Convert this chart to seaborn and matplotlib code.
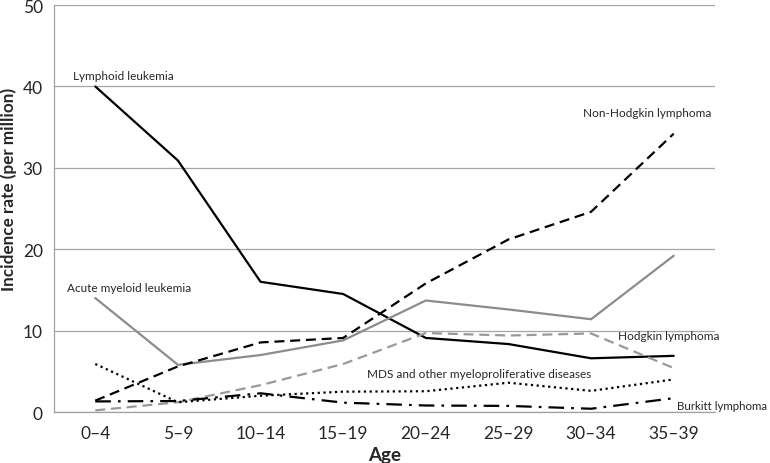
import matplotlib
matplotlib.use("Agg")
import matplotlib.pyplot as plt
import seaborn as sns
import numpy as np
import pandas as pd

ages = ["0–4", "5–9", "10–14", "15–19", "20–24", "25–29", "30–34", "35–39"]
lymphoid_leukemia = [40.0, 30.9, 16.0, 14.5, 9.1, 8.35, 6.6, 6.9]
acute_myeloid_leukemia = [14.0, 5.8, 7.0, 8.8, 13.7, 12.6, 11.4, 19.2]
non_hodgkin_lymphoma = [1.4, 5.6, 8.55, 9.1, 15.8, 21.2, 24.6, 34.2]
hodgkin_lymphoma = [0.2, 1.2, 3.3, 5.9, 9.7, 9.4, 9.65, 5.4]
mds_other = [5.9, 1.2, 2.0, 2.5, 2.55, 3.6, 2.6, 4.0]
burkitt_lymphoma = [1.3, 1.35, 2.3, 1.15, 0.8, 0.75, 0.4, 1.7]
y_ticks = [0, 10, 20, 30, 40, 50]

sns.set_theme(style="white")
plt.rcParams['font.family'] = ['Lato', 'DejaVu Sans']

fig = plt.figure(figsize=(7.7, 4.64), dpi=100)
ax = fig.add_axes([0.0701, 0.1099, 0.8585, 0.877])

xs = np.arange(len(ages))
series = [
    (lymphoid_leukemia, "black", None),
    (acute_myeloid_leukemia, "#8c8c8c", None),
    (non_hodgkin_lymphoma, "black", (4.5, 2.6)),
    (hodgkin_lymphoma, "#999999", (4.5, 2.6)),
    (mds_other, "black", (1, 1.6)),
    (burkitt_lymphoma, "black", (7, 3.2, 1.2, 3.2)),
]
for vals, col, dash in series:
    n0 = len(ax.lines)
    sns.lineplot(x=xs, y=vals, color=col, linewidth=1.6, ax=ax)
    ln = ax.lines[n0]
    if dash is not None:
        ln.set_dashes(dash)
    ln.set_solid_joinstyle("miter")
    ln.set_dash_joinstyle("miter")

ax.set_xlim(-0.5, 7.5)
ax.set_ylim(0, 50)
ax.set_yticks(y_ticks)
ax.set_xticks(xs)
ax.set_xticklabels(ages)
ax.set_xticks(np.arange(-0.5, 8, 1), minor=True)
ax.tick_params(axis="x", which="major", length=0, labelsize=12.5, pad=9)
ax.tick_params(axis="x", which="minor", length=5, width=0.8, color="#a0a0a0", direction="out")
ax.tick_params(axis="y", which="major", length=5.5, width=0.8, color="#a0a0a0", direction="out", labelsize=12.5, pad=2.5)
ax.yaxis.grid(True, color="#a6a6a6", linewidth=0.9)
ax.set_axisbelow(True)
for s in ["top", "right"]:
    ax.spines[s].set_visible(False)
for s in ["left", "bottom"]:
    ax.spines[s].set_color("#a0a0a0")
    ax.spines[s].set_linewidth(0.9)

ax.set_xlabel("Age", fontsize=13.5, fontweight="bold")
ax.xaxis.set_label_coords(0.5, -0.084)
ax.set_ylabel("Incidence rate (per million)", fontsize=12.3, fontweight="bold")
ax.yaxis.set_label_coords(-0.0565, 0.55)

fs = 8.5
ax.text(-0.27, 41.3, "Lymphoid leukemia", fontsize=fs, ha="left", va="center")
ax.text(-0.34, 15.35, "Acute myeloid leukemia", fontsize=fs, ha="left", va="center")
ax.text(5.9, 36.85, "Non-Hodgkin lymphoma", fontsize=fs, ha="left", va="center")
ax.text(6.32, 9.34, "Hodgkin lymphoma", fontsize=fs, ha="left", va="center")
ax.text(3.29, 4.67, "MDS and other myeloproliferative diseases", fontsize=fs, ha="left", va="center")
ax.text(8.13, 0.86, "Burkitt lymphoma", fontsize=8.3, ha="right", va="center", clip_on=False)

fig.savefig("out.png", dpi=100)
